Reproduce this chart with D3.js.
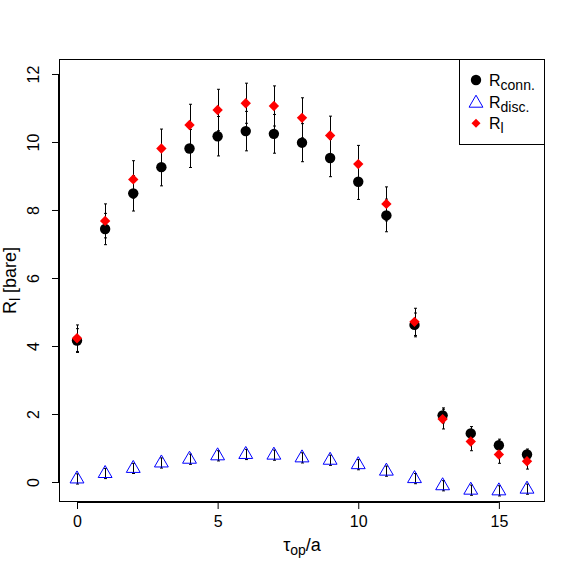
<!DOCTYPE html>
<html><head><meta charset="utf-8">
<script src="https://cdn.jsdelivr.net/npm/d3@7"></script>
<style>body{margin:0;background:#fff}svg{display:block}text{font-family:"Liberation Sans",Arial,sans-serif}</style>
</head><body><svg id="c" width="575" height="575"></svg>
<script>
const tau = [0,1,2,3,4,5,6,7,8,9,10,11,12,13,14,15,16];
const Rconn = [4.16,7.44,8.49,9.26,9.81,10.17,10.32,10.24,9.98,9.53,8.83,7.84,4.62,1.96,1.43,1.08,0.81];
const RconnErr = [0.35,0.46,0.52,0.55,0.56,0.58,0.58,0.57,0.56,0.55,0.52,0.48,0.35,0.22,0.20,0.18,0.16];
const Rl = [4.23,7.68,8.90,9.81,10.50,10.94,11.14,11.06,10.71,10.19,9.35,8.18,4.71,1.85,1.19,0.81,0.61];
const RlErr = [0.39,0.50,0.55,0.57,0.61,0.61,0.59,0.59,0.59,0.57,0.55,0.50,0.40,0.29,0.27,0.26,0.23];
const Rdisc = [0.09,0.25,0.40,0.56,0.67,0.77,0.81,0.79,0.71,0.64,0.51,0.32,0.10,-0.11,-0.24,-0.26,-0.21];
const RdiscErr = [0.15,0.15,0.15,0.15,0.15,0.15,0.15,0.15,0.15,0.15,0.15,0.15,0.15,0.15,0.15,0.15,0.15];
const xTicks = [0,5,10,15];
const yTicks = [0,2,4,6,8,10,12];

const svg = d3.select("#c");
const L=59, R=545, T=59, B=502;
const x = d3.scaleLinear().domain([-0.64,16.64]).range([L,R]);
const y = d3.scaleLinear().domain([-0.588,12.441]).range([B,T]);

// box
svg.append("rect").attr("x",L+0.5).attr("y",T+0.5).attr("width",R-L-1).attr("height",B-T-1)
  .attr("fill","none").attr("stroke","#000");

// x axis
const gx = svg.append("g").attr("transform",`translate(0,${B})`)
  .call(d3.axisBottom(x).tickValues(xTicks).tickSize(7).tickPadding(7).tickFormat(d3.format("d")));
gx.select(".domain").attr("d",`M${x(0)},0.5H${x(15)}`);
gx.selectAll("text").attr("font-size",16).attr("fill","#000").attr("font-family","Liberation Sans, Arial, sans-serif");
gx.selectAll("line").attr("stroke","#000");

// y axis
const gy = svg.append("g").attr("transform",`translate(${L},0)`)
  .call(d3.axisLeft(y).tickValues(yTicks).tickSize(7).tickFormat(d3.format("d")));
gy.select(".domain").attr("d",`M-0.5,${y(0)}V${y(12)}`);
gy.selectAll("line").attr("stroke","#000");
gy.selectAll("text").attr("font-size",16).attr("fill","#000").attr("font-family","Liberation Sans, Arial, sans-serif")
  .attr("x",null).attr("dy",null).attr("text-anchor","middle")
  .attr("transform","translate(-20.5,0) rotate(-90)");

// axis labels
const xl = svg.append("text").attr("x",(L+R)/2).attr("y",551).attr("text-anchor","middle").attr("font-size",18);
xl.append("tspan").text("τ");
xl.append("tspan").attr("font-size",14).attr("dy",4).text("op");
xl.append("tspan").attr("dy",-4).text("/a");

const yl = svg.append("text").attr("transform",`translate(16,${(T+B)/2}) rotate(-90)`).attr("text-anchor","middle").attr("font-size",18);
yl.append("tspan").text("R");
yl.append("tspan").attr("font-size",14).attr("dy",4).text("l");
yl.append("tspan").attr("dy",-4).text(" [bare]");

// error bars
function bars(vals, errs){
  const g = svg.append("g").attr("stroke","#000").attr("stroke-width",1).attr("fill","none");
  tau.forEach((t,i)=>{
    const cx = Math.round(x(t))+0.5, y1=y(vals[i]+errs[i]), y2=y(vals[i]-errs[i]);
    g.append("path").attr("d",`M${cx},${y1}V${y2}M${cx-1.5},${y1}H${cx+1.5}M${cx-1.5},${y2}H${cx+1.5}`);
  });
}
bars(Rconn,RconnErr);
bars(Rdisc,RdiscErr);
bars(Rl,RlErr);

// points
const triR = 8;
function triPath(cx,cy,r){
  const xc=r*Math.sqrt(3)/2, yc=r/2;
  return `M${cx},${cy-r}L${cx+xc},${cy+yc}L${cx-xc},${cy+yc}Z`;
}
function diaPath(cx,cy,r){return `M${cx},${cy-r}L${cx+r},${cy}L${cx},${cy+r}L${cx-r},${cy}Z`;}

svg.append("g").selectAll("circle").data(tau).join("circle")
  .attr("cx",d=>x(d)).attr("cy",(d,i)=>y(Rconn[i])).attr("r",5.2).attr("fill","#000");
svg.append("g").selectAll("path").data(tau).join("path")
  .attr("d",(d,i)=>triPath(x(d),y(Rdisc[i]),triR)).attr("fill","none").attr("stroke","#0000ff").attr("stroke-width",1);
svg.append("g").selectAll("path").data(tau).join("path")
  .attr("d",(d,i)=>diaPath(x(d),y(Rl[i]),5.2)).attr("fill","#ff0000");

// legend
svg.append("rect").attr("x",459.5).attr("y",59.5).attr("width",85).attr("height",85).attr("fill","#fff").attr("stroke","#000");
const lx=476, ly=[80,101.7,123.3];
svg.append("circle").attr("cx",lx).attr("cy",ly[0]).attr("r",5.2).attr("fill","#000");
svg.append("path").attr("d",triPath(lx,ly[1]+1.5,triR)).attr("fill","none").attr("stroke","#0000ff");
svg.append("path").attr("d",diaPath(lx,ly[2],4.5)).attr("fill","#ff0000");
const labs=[["R","conn."],["R","disc."],["R","l"]];
labs.forEach((l,i)=>{
  const t=svg.append("text").attr("x",489).attr("y",ly[i]+6).attr("font-size",16);
  t.append("tspan").text(l[0]);
  t.append("tspan").attr("font-size",14).attr("dy",4).text(l[1]);
});
</script></body></html>
